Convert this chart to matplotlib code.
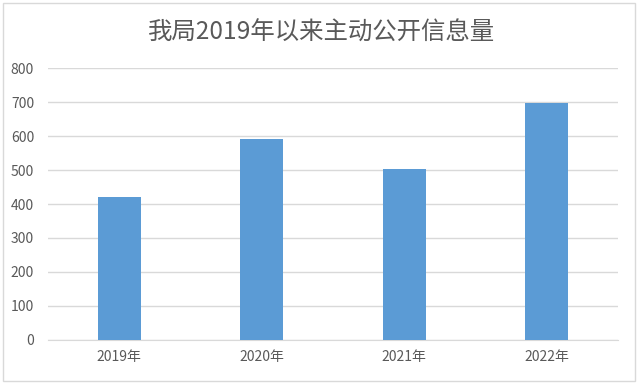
import matplotlib
matplotlib.use("Agg")
import matplotlib.pyplot as plt
from matplotlib.patches import Rectangle

plt.rcParams['font.family'] = ['Noto Sans CJK SC', 'DejaVu Sans']

# data
years = ["2019年", "2020年", "2021年", "2022年"]
counts = [422, 592, 504, 696]
title = "我局2019年以来主动公开信息量"

fig = plt.figure(figsize=(6.4, 3.84), dpi=100)
ax = fig.add_axes([0.075, 0.1146, 0.8906, 0.7083])

x = range(len(years))
ax.bar(x, counts, width=0.3, color="#5b9bd5", zorder=3)

ax.set_xlim(-0.5, len(years) - 0.5)
ax.set_ylim(0, 800)
ax.set_yticks(range(0, 801, 100))
ax.set_xticks(list(x))
ax.set_xticklabels(years)

ax.grid(axis="y", color="#d9d9d9", linewidth=1, zorder=0)
for s in ["top", "right", "left"]:
    ax.spines[s].set_visible(False)
ax.spines["bottom"].set_color("#d9d9d9")
ax.tick_params(axis="both", length=0, labelsize=10, colors="#595959")
ax.tick_params(axis="y", pad=10)
ax.tick_params(axis="x", pad=7)

fig.text(0.502, 0.915, title, ha="center", va="center", fontsize=17.6, color="#595959")

# light frame around the chart
fig.patches.append(Rectangle((0.004, 0.008), 0.988, 0.984, transform=fig.transFigure,
                             fill=False, edgecolor="#d9d9d9", linewidth=1))

fig.savefig("out.png", dpi=100)
